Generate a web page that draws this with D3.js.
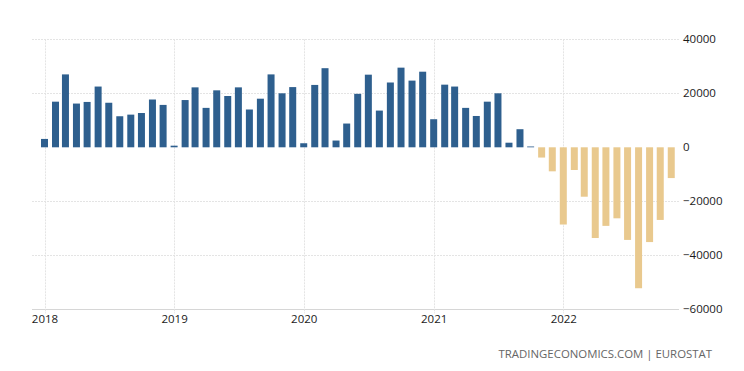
<!DOCTYPE html>
<html>
<head>
<meta charset="utf-8">
<script src="https://cdn.jsdelivr.net/npm/d3@7"></script>
<style>
  html, body { margin: 0; padding: 0; background: #ffffff; }
  svg { display: block; }
  text { font-family: "Open Sans", "Noto Sans", sans-serif; }
</style>
</head>
<body>
<svg id="chart" width="744" height="371"></svg>
<script>
// Monthly values, Jan 2018 .. Nov 2022
const startMonth = "2018-01";
const values = [
  // 2018
  3100, 16900, 27000, 16200, 16800, 22500, 16500, 11500, 12100, 12700, 17700, 15700,
  // 2019
  600, 17500, 22200, 14600, 21100, 19000, 22200, 14000, 18000, 27000, 20000, 22300,
  // 2020
  1500, 23100, 29300, 2500, 8800, 19800, 26900, 13600, 24000, 29500, 24700, 28000,
  // 2021
  10400, 23200, 22500, 14600, 11600, 16900, 20000, 1700, 6700, 300, -3800, -8900,
  // 2022
  -28600, -8400, -18300, -33600, -29100, -26300, -34300, -52200, -35100, -26900, -11400
];
const yTicks = [40000, 20000, 0, -20000, -40000, -60000];
const xTickYears = ["2018", "2019", "2020", "2021", "2022"];
const sourceText = "TRADINGECONOMICS.COM | EUROSTAT";

const parseMonth = d3.timeParse("%Y-%m");
const parseYear = d3.timeParse("%Y");
const start = parseMonth(startMonth);
const data = values.map((v, i) => ({ date: d3.timeMonth.offset(start, i), value: v }));

const svg = d3.select("#chart");

const x = d3.scaleTime()
  .domain([parseYear("2018"), parseYear("2022")])
  .range([44.5, 563.3]);
const y = d3.scaleLinear()
  .domain([-60000, 40000])
  .range([309.3, 39.3]);

const gridLeft = 32, gridRight = 679;

// horizontal gridlines (none drawn on the zero line)
svg.append("g").selectAll("line").data(yTicks.filter(d => d !== 0)).join("line")
  .attr("x1", gridLeft).attr("x2", gridRight)
  .attr("y1", d => Math.round(y(d)) + 0.5).attr("y2", d => Math.round(y(d)) + 0.5)
  .attr("stroke", d => d === -60000 ? "#d6d6d6" : "#e4e4e4")
  .attr("stroke-width", 1)
  .attr("stroke-dasharray", d => d === -60000 ? null : "2,1");

// vertical gridlines at years
const yearDates = xTickYears.map(parseYear);
svg.append("g").selectAll("line").data(yearDates).join("line")
  .attr("x1", d => Math.round(x(d)) + 0.5).attr("x2", d => Math.round(x(d)) + 0.5)
  .attr("y1", y(40000)).attr("y2", y(-60000) + 4)
  .attr("stroke", "#e4e4e4")
  .attr("stroke-width", 1)
  .attr("stroke-dasharray", "2,1");

// bars
const barW = 7;
svg.append("g").selectAll("rect").data(data).join("rect")
  .attr("x", d => x(d.date) - barW / 2)
  .attr("width", barW)
  .attr("y", d => y(Math.max(0, d.value)))
  .attr("height", d => Math.max(0.8, Math.abs(y(d.value) - y(0))))
  .attr("fill", d => d.value >= 0 ? "#2e5f8e" : "#e9c98e");

// y axis labels (right side)
const yAxis = d3.axisRight(y).tickValues(yTicks).tickSize(0).tickPadding(0).tickFormat(d3.format("d"));
const gy = svg.append("g").attr("transform", "translate(683,0)").call(yAxis);
gy.select(".domain").remove();
gy.selectAll("text")
  .attr("x", 0)
  .attr("fill", "#1a1a1a")
  .style("font-size", "11.5px")
  .style("font-family", "'Open Sans', sans-serif");

// x axis labels
const xAxis = d3.axisBottom(x).tickValues(yearDates).tickSize(0).tickPadding(0).tickFormat(d3.timeFormat("%Y"));
const gx = svg.append("g").attr("transform", "translate(0,314)").call(xAxis);
gx.select(".domain").remove();
gx.selectAll("text")
  .attr("y", 0)
  .attr("dy", "0.75em")
  .attr("fill", "#1a1a1a")
  .style("font-size", "11.5px")
  .style("font-family", "'Open Sans', sans-serif");

// source
svg.append("text")
  .attr("x", 712).attr("y", 357.5)
  .attr("text-anchor", "end")
  .attr("fill", "#666")
  .style("font-size", "11.4px")
  .text(sourceText);
</script>
</body>
</html>
